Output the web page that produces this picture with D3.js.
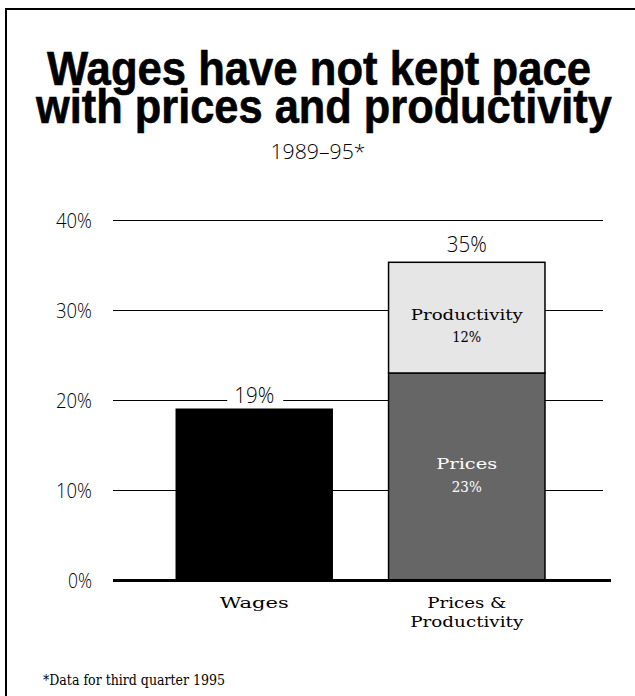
<!DOCTYPE html>
<html>
<head>
<meta charset="utf-8">
<script src="https://cdn.jsdelivr.net/npm/d3@7/dist/d3.min.js"></script>
<style>
  html, body { margin: 0; padding: 0; background: #fff; }
  svg { display: block; }
</style>
</head>
<body>
<svg id="chart" width="635" height="696"></svg>
<script>
// ---- data ----
const categories = ["Wages", "Prices & Productivity"];
const wagesValues = [19, 0];
const pricesValues = [0, 23];
const productivityValues = [0, 12.3];
const totalLabels = ["19%", "35%"];
const segmentLabels = ["Prices", "Productivity"];
const segmentValueLabels = ["23%", "12%"];
const yTicks = [0, 10, 20, 30, 40];
const titleLines = ["Wages have not kept pace", "with prices and productivity"];
const subtitle = "1989\u201395*";
const footnote = "*Data for third quarter 1995";

// ---- chart ----
const svg = d3.select("#chart");

// frame
svg.append("path")
  .attr("d", "M6,700 L6,9 L640,9")
  .attr("fill", "none").attr("stroke", "#000").attr("stroke-width", 2);

// title: condensed by horizontal scaling
const titleSpec = [
  { txt: titleLines[0], cx: 319, y: 85, w: 544 },
  { txt: titleLines[1], cx: 324, y: 123, w: 576 }
];
titleSpec.forEach(s => {
  const g = svg.append("g");
  const t = g.append("text").attr("x", 0).attr("y", 0).attr("text-anchor", "middle")
    .attr("font-family", "'Liberation Sans', Arial, sans-serif")
    .attr("font-weight", "bold").attr("font-size", 48).attr("fill", "#000")
    .attr("stroke", "#000").attr("stroke-width", 0.6)
    .text(s.txt);
  const natural = t.node().getComputedTextLength();
  g.attr("transform", `translate(${s.cx},${s.y}) scale(${s.w / natural},1)`);
});

svg.append("text").attr("x", 318).attr("y", 159).attr("text-anchor", "middle")
  .attr("font-family", "'Open Sans', 'DejaVu Sans', sans-serif").attr("font-weight", 300)
  .attr("font-size", 21).attr("fill", "#000").attr("textLength", 95).attr("lengthAdjust", "spacingAndGlyphs")
  .text(subtitle);

const y = d3.scaleLinear().domain([0, 40]).range([580, 220]);
const x = d3.scaleBand().domain(categories).range([113, 608])
  .paddingInner(0.264).paddingOuter(0.2965);

// gridlines
svg.append("g").selectAll("line").data(yTicks.filter(d => d > 0)).join("line")
  .attr("x1", 113).attr("x2", 603)
  .attr("y1", d => y(d) + 0.5).attr("y2", d => y(d) + 0.5)
  .attr("stroke", "#000").attr("stroke-width", 1);

// y axis labels
const sansFont = "'Open Sans', 'DejaVu Sans', sans-serif";
const serifFont = "'DejaVu Serif', 'Liberation Serif', serif";
const yAxis = d3.axisLeft(y).tickValues(yTicks).tickSize(0).tickPadding(0)
  .tickFormat(d => d + "%");
const ya = svg.append("g").attr("transform", "translate(92,0)").call(yAxis);
ya.select(".domain").remove();
ya.selectAll("text").attr("font-family", sansFont)
  .attr("font-weight", 300).attr("font-size", 21).attr("fill", "#000")
  .attr("textLength", 36).attr("lengthAdjust", "spacingAndGlyphs").attr("dy", "0.36em");
ya.selectAll(".tick").filter(d => d === 0).select("text").attr("textLength", 24);

// bars
const bars = svg.append("g");
const stack = categories.map((c, i) => ({
  cat: c, wages: wagesValues[i], prices: pricesValues[i], prod: productivityValues[i]
}));
bars.selectAll("rect.w").data(stack.filter(d => d.wages > 0)).join("rect")
  .attr("class", "w")
  .attr("x", d => x(d.cat)).attr("width", x.bandwidth())
  .attr("y", d => y(d.wages)).attr("height", d => y(0) - y(d.wages))
  .attr("fill", "#000").attr("stroke", "#000").attr("stroke-width", 1);
bars.selectAll("rect.p").data(stack.filter(d => d.prices > 0)).join("rect")
  .attr("class", "p")
  .attr("x", d => x(d.cat)).attr("width", x.bandwidth())
  .attr("y", d => y(d.prices)).attr("height", d => y(0) - y(d.prices))
  .attr("fill", "#666666").attr("stroke", "#000").attr("stroke-width", 1.5);
bars.selectAll("rect.q").data(stack.filter(d => d.prod > 0)).join("rect")
  .attr("class", "q")
  .attr("x", d => x(d.cat)).attr("width", x.bandwidth())
  .attr("y", d => y(d.prices + d.prod)).attr("height", d => y(d.prices) - y(d.prices + d.prod))
  .attr("fill", "#e6e6e6").attr("stroke", "#000").attr("stroke-width", 1.5);

// baseline
svg.append("line").attr("x1", 113).attr("x2", 611).attr("y1", y(0) + 0.5).attr("y2", y(0) + 0.5)
  .attr("stroke", "#000").attr("stroke-width", 3);

// total labels
const cx = c => x(c) + x.bandwidth() / 2;
const wl = svg.append("g");
wl.append("rect").attr("x", cx(categories[0]) - 27).attr("y", y(19) - 26)
  .attr("width", 56).attr("height", 22).attr("fill", "#fff");
wl.append("text").attr("x", cx(categories[0])).attr("y", y(19) - 6)
  .attr("text-anchor", "middle").attr("font-family", sansFont).attr("font-weight", 300)
  .attr("font-size", 22).attr("fill", "#000").attr("textLength", 40).attr("lengthAdjust", "spacingAndGlyphs")
  .text(totalLabels[0]);
svg.append("text").attr("x", cx(categories[1])).attr("y", y(23 + 12.3) - 10)
  .attr("text-anchor", "middle").attr("font-family", sansFont).attr("font-weight", 300)
  .attr("font-size", 22).attr("fill", "#000").attr("textLength", 40).attr("lengthAdjust", "spacingAndGlyphs")
  .text(totalLabels[1]);

// segment labels
const c2 = cx(categories[1]);
const segText = (txt, xx, yy, w, fill) => svg.append("text").attr("x", xx).attr("y", yy)
  .attr("text-anchor", "middle").attr("font-family", serifFont).attr("font-size", 15)
  .attr("fill", fill).attr("textLength", w).attr("lengthAdjust", "spacingAndGlyphs").text(txt);
segText(segmentLabels[1], c2, 320, 112, "#000");
segText(segmentValueLabels[1], c2, 342, 29, "#000");
segText(segmentLabels[0], c2, 469, 61, "#fff");
segText(segmentValueLabels[0], c2, 492, 30, "#fff");

// category labels
segText("Wages", cx(categories[0]), 608, 69, "#000");
segText("Prices &", c2, 608, 79, "#000");
segText("Productivity", c2, 627, 113, "#000");

// footnote
svg.append("text").attr("x", 43).attr("y", 685).attr("font-family", serifFont)
  .attr("font-size", 14).attr("textLength", 182).attr("lengthAdjust", "spacingAndGlyphs")
  .text(footnote);
</script>
</body>
</html>
